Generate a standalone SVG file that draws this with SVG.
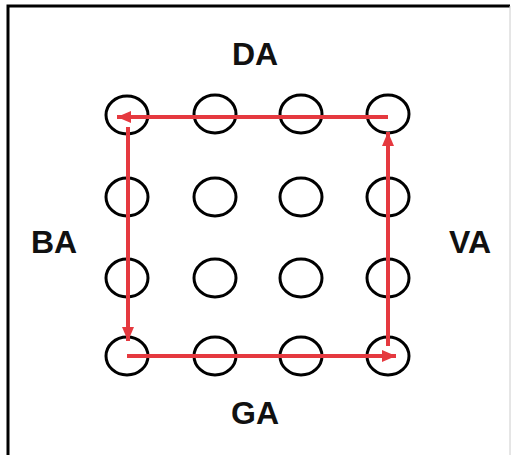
<svg xmlns="http://www.w3.org/2000/svg" width="511" height="455" viewBox="0 0 511 455">
<style>
.n ellipse{fill:none;stroke:#000;stroke-width:3}
.lbl{font-family:"Liberation Sans",Arial,sans-serif;font-weight:bold;font-size:32px;fill:#111;text-anchor:middle}
.c{stroke:#e5393f;stroke-width:4;fill:none;marker-end:url(#ah)}
</style>
<defs>
<marker id="ah" markerUnits="userSpaceOnUse" markerWidth="14" markerHeight="12" refX="14" refY="6" orient="auto">
<path d="M0,0 L14,6 L0,12 z" fill="#e5393f"/>
</marker>
</defs>
<rect width="511" height="455" fill="#fff"/>
<path d="M8,460 L8,6 L510,6" fill="none" stroke="#000" stroke-width="3"/>
<line x1="510" y1="6" x2="510" y2="455" stroke="#ccc" stroke-width="1"/>
<g id="labels">
<text class="lbl" x="255" y="65">DA</text>
<text class="lbl" x="54" y="253">BA</text>
<text class="lbl" x="470" y="253">VA</text>
<text class="lbl" x="255" y="424">GA</text>
</g>
<g id="n11" class="n"><ellipse cx="127" cy="115" rx="21" ry="19"/></g>
<g id="n12" class="n"><ellipse cx="215" cy="114" rx="21" ry="19"/></g>
<g id="n13" class="n"><ellipse cx="301" cy="114" rx="21" ry="19"/></g>
<g id="n14" class="n"><ellipse cx="388" cy="114" rx="21" ry="19"/></g>
<g id="n21" class="n"><ellipse cx="127" cy="197" rx="21" ry="19"/></g>
<g id="n22" class="n"><ellipse cx="215" cy="197" rx="21" ry="19"/></g>
<g id="n23" class="n"><ellipse cx="301" cy="197" rx="21" ry="19"/></g>
<g id="n24" class="n"><ellipse cx="388" cy="197" rx="21" ry="19"/></g>
<g id="n31" class="n"><ellipse cx="127" cy="278" rx="21" ry="19"/></g>
<g id="n32" class="n"><ellipse cx="215" cy="278" rx="21" ry="19"/></g>
<g id="n33" class="n"><ellipse cx="301" cy="278" rx="21" ry="19"/></g>
<g id="n34" class="n"><ellipse cx="388" cy="278" rx="21" ry="19"/></g>
<g id="n41" class="n"><ellipse cx="127" cy="356" rx="21" ry="19"/></g>
<g id="n42" class="n"><ellipse cx="215" cy="356" rx="21" ry="19"/></g>
<g id="n43" class="n"><ellipse cx="301" cy="356" rx="21" ry="19"/></g>
<g id="n44" class="n"><ellipse cx="388" cy="356" rx="21" ry="19"/></g>
<g id="connectors">
<line class="c" x1="388" y1="117" x2="117" y2="117"/>
<line class="c" x1="128" y1="127" x2="128" y2="341"/>
<line class="c" x1="127" y1="356" x2="396" y2="356"/>
<line class="c" x1="388" y1="346" x2="388" y2="132"/>
</g>
</svg>
